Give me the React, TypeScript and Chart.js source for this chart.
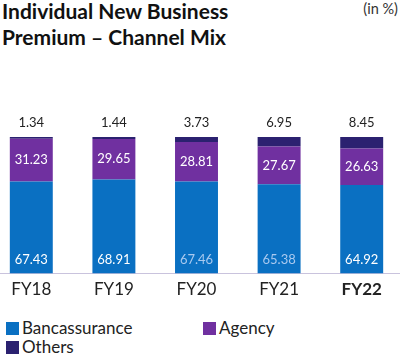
import React, { useEffect, useRef } from "react";
import { Chart, registerables } from "chart.js";

Chart.register(...registerables);

const categories = ["FY18", "FY19", "FY20", "FY21", "FY22"];
const bancassurance = [67.43, 68.91, 67.46, 65.38, 64.92];
const agency = [31.23, 29.65, 28.81, 27.67, 26.63];
const others = [1.34, 1.44, 3.73, 6.95, 8.45];
const bancaLabelColors = ["#ffffff", "#ffffff", "#a9c9ef", "#a9c9ef", "#ffffff"];

const BLUE = "#0a70c2";
const PURPLE = "#7030a0";
const NAVY = "#2b2170";

const labelPlugin = {
  id: "valueLabels",
  afterDatasetsDraw(chart: any) {
    const ctx = chart.ctx;
    ctx.save();
    ctx.textAlign = "center";
    ctx.textBaseline = "middle";
    ctx.font = "13px Lato";
    const mB = chart.getDatasetMeta(0);
    const mA = chart.getDatasetMeta(1);
    const mO = chart.getDatasetMeta(2);
    categories.forEach((_, i) => {
      const b = mB.data[i];
      const a = mA.data[i];
      const o = mO.data[i];
      ctx.fillStyle = bancaLabelColors[i];
      ctx.fillText(bancassurance[i].toFixed(2), b.x, b.base - 14);
      ctx.fillStyle = "#ffffff";
      ctx.fillText(agency[i].toFixed(2), a.x, (a.y + a.base) / 2);
      ctx.fillStyle = "#222222";
      ctx.fillText(others[i].toFixed(2), o.x, o.y - 14);
    });
    ctx.restore();
  },
};

export default function App() {
  const ref = useRef<HTMLCanvasElement | null>(null);
  useEffect(() => {
    if (!ref.current) return;
    const chart = new Chart(ref.current, {
      type: "bar",
      data: {
        labels: categories,
        datasets: [
          { label: "Bancassurance", data: bancassurance, backgroundColor: BLUE },
          { label: "Agency", data: agency, backgroundColor: PURPLE },
          { label: "Others", data: others, backgroundColor: NAVY },
        ],
      },
      options: {
        responsive: false,
        animation: false,
        layout: { padding: { top: 47, left: 0, right: 0, bottom: 0 } },
        datasets: { bar: { categoryPercentage: 1, barPercentage: 0.52 } },
        plugins: { legend: { display: false }, tooltip: { enabled: false }, title: { display: false } },
        scales: {
          x: {
            stacked: true,
            grid: { display: true, drawTicks: false, color: "rgba(0,0,0,0)" },
            border: { display: true, color: "#c9c3dd", width: 1 },
            ticks: {
              padding: 6,
              color: "#222222",
              font: (c: any) => ({ family: "Lato", size: 17, weight: c.index === 4 ? "bold" : "normal" }),
            },
          },
          y: { stacked: true, display: false, min: 0, max: 100 },
        },
      },
      plugins: [labelPlugin],
    });
    return () => chart.destroy();
  }, []);

  const legendItem = (left: number, top: number, color: string, text: string) => (
    <div style={{ position: "absolute", left, top, display: "flex", alignItems: "center", height: 20 }}>
      <span style={{ display: "inline-block", width: 13, height: 13, background: color, marginRight: 3 }} />
      <span style={{ fontFamily: "Lato", fontSize: 17, lineHeight: "20px", color: "#222" }}>{text}</span>
    </div>
  );

  return (
    <div style={{ position: "absolute", left: 0, top: 0, width: 400, height: 354, overflow: "hidden", background: "#fff" }}>
      <div style={{ position: "absolute", left: 2, top: -2, fontFamily: "Lato", fontWeight: "bold", fontSize: 21, lineHeight: "26px", color: "#111" }}>
        Individual New Business
        <br />
        Premium – Channel Mix
      </div>
      <div style={{ position: "absolute", right: 2, top: 0, fontFamily: "Lato", fontSize: 14.5, color: "#333" }}>(in %)</div>
      <canvas ref={ref} width={413} height={216} style={{ position: "absolute", left: -10, top: 90 }} />
      {legendItem(6, 318, BLUE, "Bancassurance")}
      {legendItem(203, 318, PURPLE, "Agency")}
      {legendItem(6, 337, NAVY, "Others")}
    </div>
  );
}
